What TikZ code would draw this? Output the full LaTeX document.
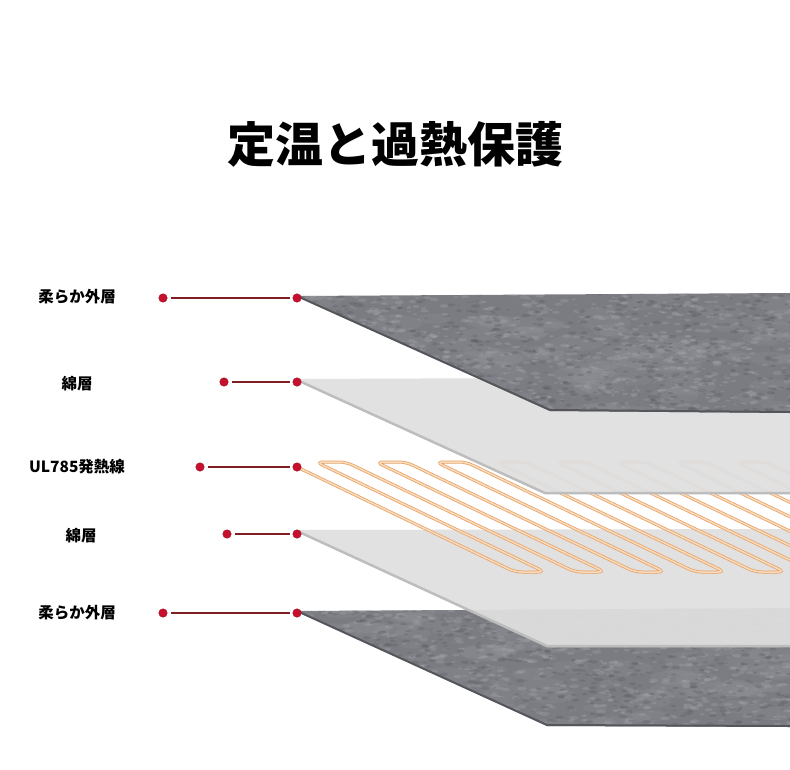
\documentclass[tikz,border=0pt]{standalone}
\usepackage{fontspec}
\newfontfamily\jpfont{Noto Sans CJK JP}
\usetikzlibrary{positioning}

\definecolor{feltbase}{HTML}{7A7C81}
\definecolor{feltlight}{HTML}{ABADB2}
\definecolor{feltdark}{HTML}{55575C}
\definecolor{feltrim}{HTML}{54565B}
\definecolor{cottongray}{HTML}{DFDFDF}
\definecolor{cottonrim}{HTML}{BDBDBD}
\definecolor{wireedge}{HTML}{E6A064}
\definecolor{wirefill}{HTML}{FADCBC}
\definecolor{dotred}{HTML}{C8102E}
\definecolor{dotedge}{HTML}{960C20}
\definecolor{leaderred}{HTML}{7E1F24}

\tikzset{
  layerlabel/.style={font=\jpfont\bfseries\fontsize{15.5}{16}\selectfont},
  titletext/.style={font=\jpfont\bfseries\fontsize{48}{48}\selectfont},
  reddot/.style={circle, fill=dotred, draw=dotedge, line width=0.4pt, inner sep=0pt, minimum size=8.5pt},
  leader/.style={draw=leaderred, line width=1.3pt, shorten <=3.5pt, shorten >=2.5pt},
  cottonface/.style={fill=cottongray, fill opacity=0.94},
  cottonedge/.style={draw=cottonrim, line width=2.5pt, line join=round},
  feltedge/.style={draw=feltrim, line width=2pt, line join=round},
  wire/.style={draw=wireedge, line width=0.75pt, double=wirefill, double distance=1.5pt, rounded corners=7pt},
}

% fluffy texture for the felt layers
\newcommand{\feltfluff}[1]{%
  \foreach \k in {1,...,120}{
    \pgfmathsetmacro{\fx}{290+505*rnd}
    \pgfmathsetmacro{\fy}{#1+125*rnd}
    \pgfmathsetmacro{\fr}{10+18*rnd}
    \fill[feltlight, opacity=0.12] (\fx,\fy) ellipse [x radius=\fr, y radius=0.3*\fr];
  }
  \foreach \k in {1,...,900}{
    \pgfmathsetmacro{\fx}{290+505*rnd}
    \pgfmathsetmacro{\fy}{#1+125*rnd}
    \pgfmathsetmacro{\fr}{1.5+3.5*rnd}
    \fill[feltlight, opacity=0.28] (\fx,\fy) ellipse [x radius=\fr, y radius=0.4*\fr];
  }
  \foreach \k in {1,...,700}{
    \pgfmathsetmacro{\fx}{290+505*rnd}
    \pgfmathsetmacro{\fy}{#1+125*rnd}
    \pgfmathsetmacro{\fr}{1.5+3*rnd}
    \fill[feltdark, opacity=0.28] (\fx,\fy) ellipse [x radius=\fr, y radius=0.4*\fr];
  }}

\begin{document}
\begin{tikzpicture}[x=1pt, y=-1pt]
  \useasboundingbox (0,0) rectangle (790,769);
  \clip (0,0) rectangle (790,769);
  \pgfmathsetseed{42}

  % bottom felt
  \begin{scope}
    \clip (297,611) -- (790,608) -- (790,727) -- (547,726) -- cycle;
    \fill[feltbase] (290,600) rectangle (790,730);
    \feltfluff{604}
  \end{scope}
  \draw[feltedge] (297,611) -- (547,725) -- (790,726);

  % lower cotton
  \fill[cottonface] (297,530) -- (790,529) -- (790,647) -- (547,647) -- cycle;
  \draw[cottonedge] (297,531) -- (547,646) -- (790,646);

  % heating wire
  \draw[wire] (297,467) \foreach \j in {0,...,8}{
    -- ({515+60*\j},572) -- ({545+60*\j},572) -- ({316+60*\j},462) -- ({346+60*\j},462) };

  % upper cotton
  \fill[cottonface] (297,379) -- (790,377) -- (790,494) -- (545,494) -- cycle;
  \draw[cottonedge] (297,380) -- (545,493) -- (790,493);

  % top felt
  \begin{scope}
    \clip (297,296) -- (790,293) -- (790,413) -- (550,411) -- cycle;
    \fill[feltbase] (290,285) rectangle (790,415);
    \feltfluff{289}
  \end{scope}
  \draw[feltedge] (297,296) -- (550,410) -- (790,412);

  % pointers
  \node[reddot] (r1) at (297,298) {};
  \node[reddot] (r2) at (297,382) {};
  \node[reddot] (r3) at (297,467) {};
  \node[reddot] (r4) at (297,534) {};
  \node[reddot] (r5) at (297,613) {};
  \node[reddot] (l1) at (163,298) {};
  \node[reddot] (l2) at (224,382) {};
  \node[reddot] (l3) at (200,467) {};
  \node[reddot] (l4) at (227,534) {};
  \node[reddot] (l5) at (163,613) {};
  \foreach \n in {1,...,5}
    \draw[leader] (l\n) -- (r\n);

  % labels
  \node[layerlabel] (t1) at (77,297) {柔らか外層};
  \node[layerlabel] (t2) at (77,384) {綿層};
  \node[layerlabel] (t3) at (77,467) {UL785発熱線};
  \node[layerlabel] (t4) at (81,536) {綿層};
  \node[layerlabel] (t5) at (77,613) {柔らか外層};

  \node[titletext] (title) at (395,144) {定温と過熱保護};
\end{tikzpicture}
\end{document}
